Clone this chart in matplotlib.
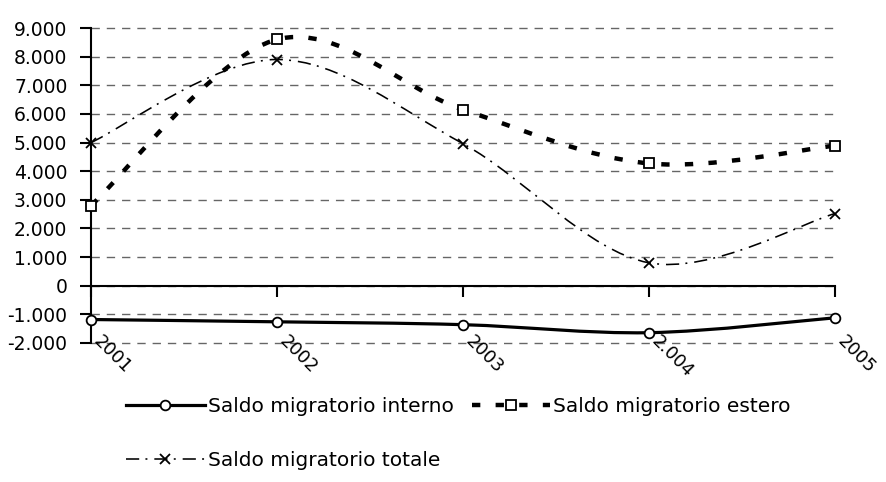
import numpy as np
import matplotlib
matplotlib.use("Agg")
import matplotlib.pyplot as plt
from matplotlib.path import Path
from matplotlib.patches import PathPatch
from matplotlib.lines import Line2D
import matplotlib.transforms as mtransforms

# values
years = ["2001", "2002", "2003", "2.004", "2005"]
interno = [-1180, -1260, -1360, -1640, -1120]
estero = [2800, 8600, 6150, 4270, 4890]
totale = [5000, 7900, 4960, 800, 2520]
labels = ["Saldo migratorio interno", "Saldo migratorio estero", "Saldo migratorio totale"]

plt.rcParams['font.family'] = ['DejaVu Sans']
plt.rcParams['lines.scale_dashes'] = False


def smoothPath(xs, ys):
    # excel-like smoothed line: cubic bezier through the points
    pts = np.column_stack([xs, ys]).astype(float)
    n = len(pts)
    verts = [pts[0]]
    codes = [Path.MOVETO]
    for i in range(n - 1):
        p0 = pts[max(i - 1, 0)]
        p1 = pts[i]
        p2 = pts[i + 1]
        p3 = pts[min(i + 2, n - 1)]
        c1 = p1 + (p2 - p0) / 6.0
        c2 = p2 - (p3 - p1) / 6.0
        verts += [c1, c2, p2]
        codes += [Path.CURVE4] * 3
    return Path(verts, codes)


fig = plt.figure(figsize=(8.86, 4.82), dpi=100)
ax = fig.add_axes([91 / 886, 1 - 343 / 482, (835 - 91) / 886, (343 - 28) / 482])

x = np.arange(len(years))
styles = [
    dict(lw=2.3, ls='-', marker='o', ms=7, mew=1.3),
    dict(lw=3.2, ls=(0, (6, 11)), marker='s', ms=6.5, mew=1.3),
    dict(lw=1.15, ls=(0, (9.5, 4.5, 1.4, 5)), marker='x', ms=7, mew=1.3),
]
series = [interno, estero, totale]
handles = []
for ys, st, lab in zip(series, styles, labels):
    patch = PathPatch(smoothPath(x, ys), fill=False, edgecolor='black',
                      lw=st['lw'], linestyle=st['ls'], capstyle='butt', zorder=3)
    ax.add_patch(patch)
    ax.plot(x, ys, linestyle='none', marker=st['marker'], ms=st['ms'],
            mfc='white', mec='black', mew=st['mew'], zorder=4, clip_on=False)
    handles.append(Line2D([], [], color='black', lw=st['lw'], linestyle=st['ls'],
                          marker=st['marker'], ms=st['ms'], mfc='white',
                          mec='black', mew=st['mew'], dash_capstyle='butt'))

ax.set_xlim(0, len(years) - 1)
ax.set_ylim(-2000, 9000)
yt = np.arange(-2000, 9001, 1000)
ax.set_yticks(yt)
ax.set_yticklabels([f"{v:,.0f}".replace(',', '.') for v in yt])
ax.yaxis.grid(True, color='#666666', lw=1, linestyle=(0, (6, 5)))
for gl in ax.get_ygridlines():
    gl.set_clip_on(False)
ax.set_axisbelow(True)

for s in ['top', 'right']:
    ax.spines[s].set_visible(False)
ax.spines['left'].set_linewidth(1.5)
ax.spines['bottom'].set_position(('data', 0))
ax.spines['bottom'].set_linewidth(1.5)
ax.spines['bottom'].set_zorder(2.5)
ax.set_xticks(x)
ax.tick_params(axis='x', direction='out', length=8, width=1.5, labelbottom=False)
ax.tick_params(axis='y', direction='out', length=8, width=1.5, labelsize=13.5, pad=9)

trans = mtransforms.offset_copy(ax.get_xaxis_transform(), fig=fig, x=12, y=11, units='dots')
for i, yr in enumerate(years):
    ax.text(i, 0, yr, transform=trans, rotation=-45, rotation_mode='anchor',
            ha='left', va='top', fontsize=13)

# legend fills column by column: put totale second so it lands on row 2
order = [0, 2, 1]
fig.legend([handles[i] for i in order], [labels[i] for i in order], ncol=2,
           loc='upper left', bbox_to_anchor=(126 / 886, 1 - 397 / 482),
           frameon=False, fontsize=14.5, handlelength=3.9, handletextpad=0.15,
           columnspacing=0.9, labelspacing=1.75, borderpad=0, borderaxespad=0, numpoints=1)

fig.savefig("out.png", dpi=100)
